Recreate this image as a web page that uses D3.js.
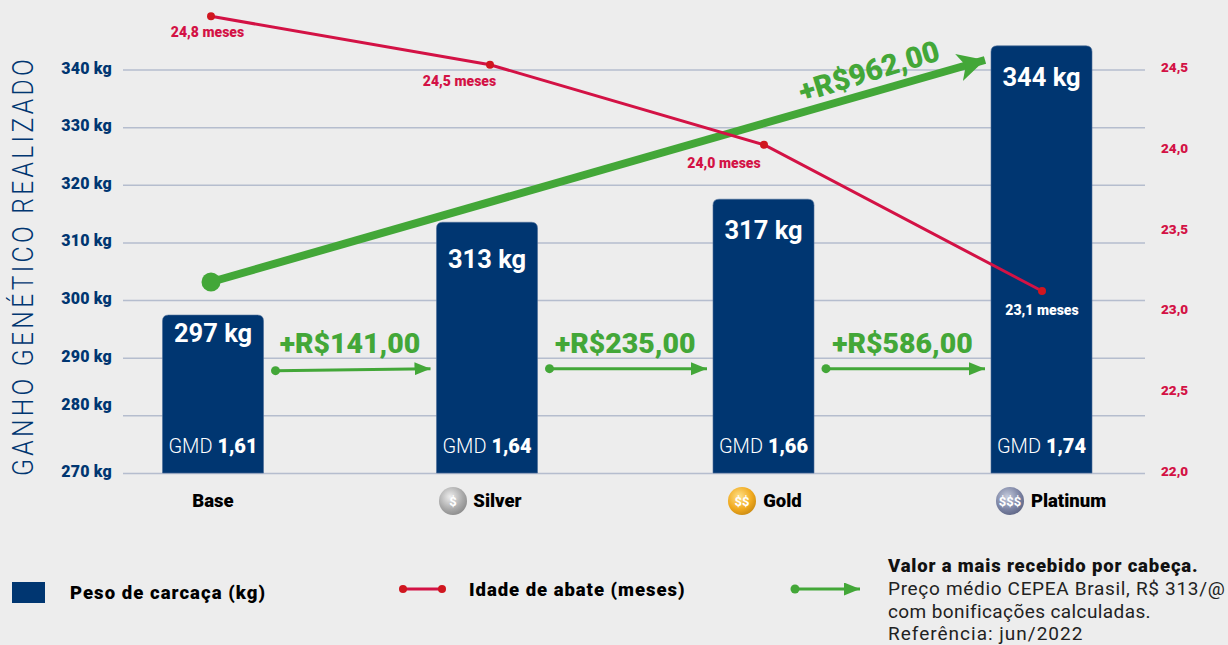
<!DOCTYPE html>
<html>
<head>
<meta charset="utf-8">
<script src="https://cdn.jsdelivr.net/npm/d3@7"></script>
<style>
  html, body { margin: 0; padding: 0; background: #ededed; }
  svg { display: block; font-family: "Liberation Sans", Arial, sans-serif; }
  .heavy { font-family: Roboto, "Liberation Sans", sans-serif; font-weight: 900; }
  .bold { font-family: Roboto, "Liberation Sans", sans-serif; font-weight: 700; }
</style>
</head>
<body>
<svg id="chart" width="1228" height="645"></svg>
<script>
// values
const categories = ['Base', 'Silver', 'Gold', 'Platinum'];
const carcassWeights = [297.4, 313.5, 317.5, 344.1];
const weightLabels = ['297 kg', '313 kg', '317 kg', '344 kg'];
const gmdValues = ['1,61', '1,64', '1,66', '1,74'];
const slaughterAges = [24.82, 24.52, 24.025, 23.12];
const ageLabels = ['24,8 meses', '24,5 meses', '24,0 meses', '23,1 meses'];
const stepGains = ['+R$141,00', '+R$235,00', '+R$586,00'];
const totalGain = 962;
const weightTicks = [270, 280, 290, 300, 310, 320, 330, 340];
const ageTicks = [22, 22.5, 23, 23.5, 24, 24.5];
const coinSymbols = ['', '$', '$$', '$$$'];
const noteLines = ['Preço médio CEPEA Brasil, R$ 313/@', 'com bonificações calculadas.', 'Referência: jun/2022'];

const navy = '#003671', green = '#43a738', crimson = '#d31245', dotRed = '#d0161f';
const fmtComma = d => d3.format('.1f')(d).replace('.', ',');

const svg = d3.select('#chart');
// the bars are not quite evenly spaced in the picture
const x = d3.scaleOrdinal().domain(categories).range([213, 487, 763.5, 1041.5]);
const y = d3.scaleLinear().domain([270, 340]).range([473, 69.5]);
const yAge = d3.scaleLinear().domain([22, 24.5]).range([472, 68]);
// the big arrow climbs from zero to the total gain
const yGain = d3.scaleLinear().domain([0, totalGain]).range([282, 60]);
const barW = 101;
const gridLeft = 123, gridRight = 1145;

// arrow heads
const defs = svg.append('defs');
defs.append('marker').attr('id', 'headSmall').attr('markerUnits', 'userSpaceOnUse')
  .attr('markerWidth', 18).attr('markerHeight', 14).attr('refX', 16).attr('refY', 6.5).attr('orient', 'auto')
  .append('path').attr('d', 'M0,0 L16,6.5 L0,13 Z').attr('fill', green);
defs.append('marker').attr('id', 'headBig').attr('markerUnits', 'userSpaceOnUse')
  .attr('markerWidth', 30).attr('markerHeight', 32).attr('refX', 27).attr('refY', 16).attr('orient', 'auto')
  .append('path').attr('d', 'M0,2 L27,16 L0,30 L7,16 Z').attr('fill', green);

const coinColors = {
  Silver: ['#eeeeee', '#a9a9a9', '#8a8a8a'],
  Gold: ['#ffe28a', '#f0a91e', '#c98a12'],
  Platinum: ['#c5cbdc', '#7b83a3', '#5d6484']
};
Object.entries(coinColors).forEach(([name, c]) => {
  const g = defs.append('radialGradient').attr('id', 'coin' + name).attr('cx', '40%').attr('cy', '35%').attr('r', '70%');
  g.append('stop').attr('offset', '0%').attr('stop-color', c[0]);
  g.append('stop').attr('offset', '65%').attr('stop-color', c[1]);
  g.append('stop').attr('offset', '100%').attr('stop-color', c[2]);
});

// left axis with gridlines
const leftAxis = svg.append('g')
  .attr('transform', `translate(${gridLeft},0)`)
  .call(d3.axisLeft(y).tickValues(weightTicks).tickFormat(d => d + ' kg')
    .tickSize(-(gridRight - gridLeft)).tickPadding(11));
leftAxis.select('.domain').remove();
leftAxis.selectAll('line').attr('stroke', '#b5bdce').attr('stroke-width', 1.5);
leftAxis.selectAll('text').attr('class', 'heavy').attr('fill', navy).attr('font-size', 16).attr('letter-spacing', 0.2)
  .attr('dy', d => d === 280 ? -6 : 3.5);

// right axis
const rightAxis = svg.append('g')
  .attr('transform', 'translate(1161,0)')
  .call(d3.axisRight(yAge).tickValues(ageTicks).tickFormat(fmtComma).tickSize(0).tickPadding(0));
rightAxis.select('.domain').remove();
rightAxis.selectAll('text').attr('class', 'heavy').attr('fill', crimson).attr('font-size', 13.5).attr('dy', 3.5);

svg.append('text')
  .attr('transform', 'translate(33,476) rotate(-90) scale(0.85,1)')
  .attr('fill', navy).attr('font-size', 29).attr('letter-spacing', 3.9)
  .style('font-family', 'Roboto, sans-serif').style('font-weight', 300)
  .text('GANHO GENÉTICO REALIZADO');

// bars, square at the base and rounded at the top
const barPath = d => {
  const l = x(d.cat) - barW / 2, r = x(d.cat) + barW / 2, t = y(d.value), b = y(270), rad = 6;
  return `M${l},${b} V${t + rad} Q${l},${t} ${l + rad},${t} H${r - rad} Q${r},${t} ${r},${t + rad} V${b} Z`;
};
const barData = categories.map((cat, i) => ({ cat, value: carcassWeights[i], label: weightLabels[i], gmd: gmdValues[i] }));
svg.selectAll('.bar').data(barData).join('path')
  .attr('class', 'bar').attr('d', barPath).attr('fill', navy).attr('stroke', '#4a6c97').attr('stroke-width', 0.6);

// the labels do not sit at one distance from the bar tops
const weightLabelDy = [27, 46, 40, 40];
svg.selectAll('.weight').data(barData).join('text')
  .attr('class', 'weight bold').attr('text-anchor', 'middle').attr('fill', '#fff').attr('font-size', 25.5)
  .attr('x', d => x(d.cat)).attr('y', (d, i) => y(d.value) + weightLabelDy[i]).text(d => d.label);

const gmd = svg.selectAll('.gmd').data(barData).join('text')
  .attr('class', 'gmd').attr('text-anchor', 'middle').attr('fill', '#fff').attr('font-size', 20)
  .attr('x', d => x(d.cat)).attr('y', 452.5);
gmd.append('tspan').style('font-family', 'Roboto, sans-serif').style('font-weight', 300).text('GMD ');
gmd.append('tspan').attr('class', 'heavy').text(d => d.gmd);

// category labels and coins
const coinDx = [0, -34, -21.5, -31.5];
const nameDx = [0, 10.5, 19, 27];
categories.forEach((cat, i) => {
  svg.append('text').attr('class', 'heavy').attr('text-anchor', 'middle').attr('fill', '#000').attr('font-size', 18.5)
    .attr('x', x(cat) + nameDx[i]).attr('y', 506.5).text(cat);
  if (!coinSymbols[i]) return;
  const cx = x(cat) + coinDx[i];
  svg.append('circle').attr('cx', cx).attr('cy', 501).attr('r', 14).attr('fill', `url(#coin${cat})`);
  svg.append('text').attr('class', 'bold').attr('text-anchor', 'middle').attr('fill', '#fff')
    .attr('font-size', 13).attr('x', cx).attr('y', 506).text(coinSymbols[i]);
});

// big green arrow, first to last category
const bigX0 = x('Base') - 2, bigX1 = x('Platinum') - barW / 2 - 6;
svg.append('line')
  .attr('x1', bigX0).attr('y1', yGain(0)).attr('x2', bigX1).attr('y2', yGain(totalGain))
  .attr('stroke', green).attr('stroke-width', 8).attr('marker-end', 'url(#headBig)');
svg.append('circle').attr('cx', bigX0).attr('cy', yGain(0)).attr('r', 9.5).attr('fill', green);
const bigAngle = Math.atan2(yGain(totalGain) - yGain(0), bigX1 - bigX0) * 180 / Math.PI;
svg.append('text').attr('class', 'heavy').attr('text-anchor', 'middle').attr('fill', green).attr('font-size', 29.5)
  .attr('transform', `translate(872,81) rotate(${bigAngle - 1})`)
  .text('+R$' + totalGain + ',00');

// small arrows between neighbouring bars, the first one tilts a little
const arrowY = y(288.1);
const arrowTilt = [2, 0, 0];
stepGains.forEach((label, i) => {
  const a = x(categories[i]) + barW / 2 + 12, b = x(categories[i + 1]) - barW / 2 - 6;
  svg.append('line').attr('x1', a).attr('y1', arrowY + arrowTilt[i]).attr('x2', b).attr('y2', arrowY)
    .attr('stroke', green).attr('stroke-width', 3).attr('marker-end', 'url(#headSmall)');
  svg.append('circle').attr('cx', a).attr('cy', arrowY + arrowTilt[i]).attr('r', 4.5).attr('fill', green);
  svg.append('text').attr('class', 'heavy').attr('text-anchor', 'middle').attr('fill', green).attr('font-size', 28.5)
    .attr('x', (a + b) / 2 - 3).attr('y', 353).text(label);
});

// age line
const lineDx = [-2, 3, 0.5, 0.5];
const agePoints = categories.map((cat, i) => [x(cat) + lineDx[i], yAge(slaughterAges[i])]);
svg.append('path').attr('d', d3.line()(agePoints)).attr('fill', 'none').attr('stroke', crimson).attr('stroke-width', 3);
svg.selectAll('.ageDot').data(agePoints).join('circle')
  .attr('class', 'ageDot').attr('cx', d => d[0]).attr('cy', d => d[1]).attr('r', 4).attr('fill', dotRed);
const ageLabelOffset = [[-3.5, 21], [-30.5, 21.5], [-40, 23], [0, 24]];
svg.selectAll('.ageLabel').data(agePoints).join('text')
  .attr('class', 'ageLabel heavy').attr('text-anchor', 'middle').attr('font-size', 14)
  .attr('fill', (d, i) => i === 3 ? '#fff' : crimson)
  .attr('x', (d, i) => d[0] + ageLabelOffset[i][0]).attr('y', (d, i) => d[1] + ageLabelOffset[i][1])
  .text((d, i) => ageLabels[i]);

// legend
svg.append('rect').attr('x', 12).attr('y', 582).attr('width', 33).attr('height', 21).attr('fill', navy);
svg.append('text').attr('class', 'heavy').attr('x', 70).attr('y', 599).attr('font-size', 18.5).attr('letter-spacing', 1.05).text('Peso de carcaça (kg)');
svg.append('line').attr('x1', 403).attr('x2', 442).attr('y1', 589).attr('y2', 589).attr('stroke', crimson).attr('stroke-width', 3);
[403, 442].forEach(cx => svg.append('circle').attr('cx', cx).attr('cy', 589).attr('r', 4).attr('fill', dotRed));
svg.append('text').attr('class', 'heavy').attr('x', 469).attr('y', 596).attr('font-size', 18.5).attr('letter-spacing', 0.96).text('Idade de abate (meses)');
svg.append('line').attr('x1', 795).attr('x2', 860).attr('y1', 589).attr('y2', 589)
  .attr('stroke', green).attr('stroke-width', 3).attr('marker-end', 'url(#headSmall)');
svg.append('circle').attr('cx', 795).attr('cy', 589).attr('r', 4.5).attr('fill', green);
svg.append('text').attr('class', 'heavy').attr('x', 888).attr('y', 572).attr('font-size', 18.5).attr('letter-spacing', 0.83).attr('fill', '#111').text('Valor a mais recebido por cabeça.');
const noteBaselines = [595, 618, 640], noteSpacing = [0.68, 0.4, 1];
noteLines.forEach((t, i) => {
  svg.append('text').attr('x', 888).attr('y', noteBaselines[i]).attr('font-size', 19).attr('fill', '#222')
    .style('font-family', 'Roboto, sans-serif').style('font-weight', 400).attr('letter-spacing', noteSpacing[i]).text(t);
});
</script>
</body>
</html>
